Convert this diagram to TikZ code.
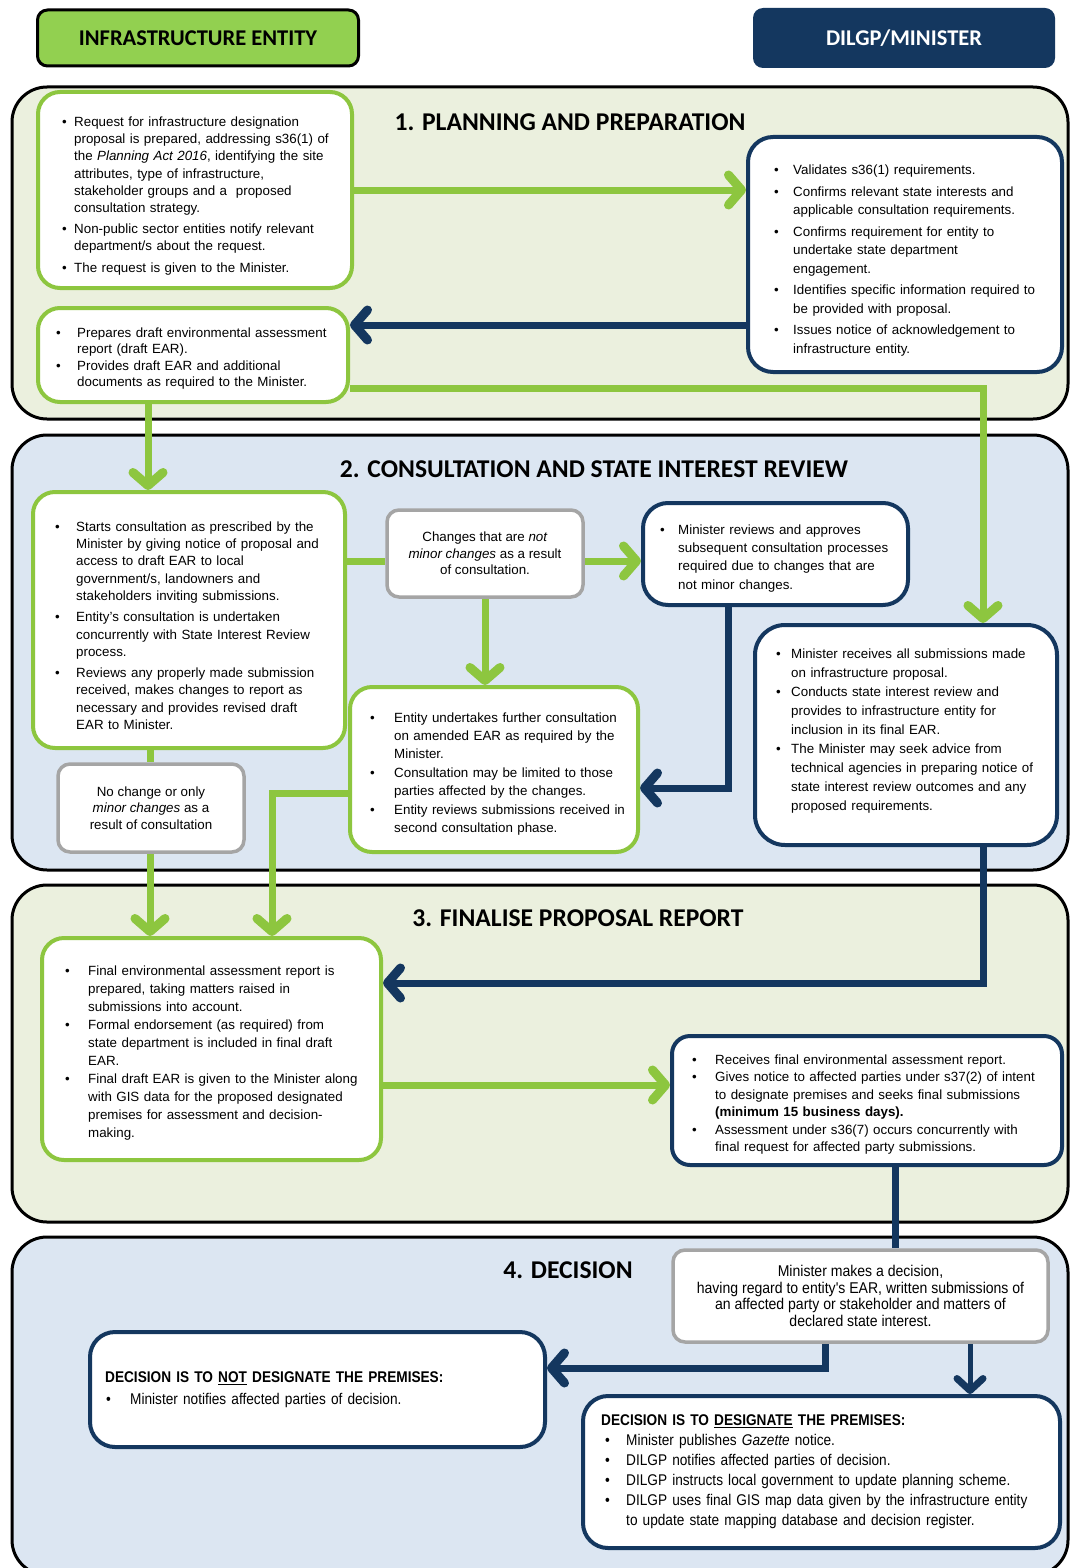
\documentclass[tikz,border=0pt]{standalone}
\usepackage{fontspec}
\setmainfont{Liberation Sans}
\newfontfamily\headfont{Carlito}
\newfontfamily\narrowfont[FakeStretch=0.88]{Liberation Sans}
\newfontfamily\narrowE[FakeStretch=0.9]{Liberation Sans}
\usetikzlibrary{arrows.meta,calc}
\definecolor{eg}{RGB}{141,198,63}
\definecolor{hg}{RGB}{146,208,80}
\definecolor{nv}{RGB}{20,55,95}
\definecolor{gy}{RGB}{165,165,165}
\definecolor{pg}{RGB}{235,240,222}
\definecolor{pb}{RGB}{220,230,242}
\newlength\bgap
\newlength\bind
\newcommand\fs[2]{\fontsize{#1}{#2}\selectfont}
\newcommand\bsetup[3]{\setlength\parskip{#1pt}\setlength\bgap{#2pt}\setlength\bind{#3pt}}
\newcommand\bitem[1]{\par\leftskip=\bind\hangindent=\bgap\hangafter=1\noindent\hbox to\bgap{\textbullet\hfil}#1\par}
\pgfdeclarelayer{panel}
\pgfdeclarelayer{conn}
\pgfsetlayers{panel,conn,main}
\begin{document}
\begin{tikzpicture}[x=1pt,y=-1pt,
  panelbox/.style={draw=black,line width=3pt,rounded corners=35pt},
  gbox/.style={draw=eg,fill=white,line width=4pt,rounded corners=22pt,inner sep=0pt},
  nbox/.style={draw=nv,fill=white,line width=4pt,rounded corners=25pt,inner sep=0pt},
  ybox/.style={draw=gy,fill=white,line width=3.5pt,rounded corners=12pt,inner sep=0pt},
  txt/.style={anchor=west,inner sep=0pt,text width=440pt,align=left},
  ctxt/.style={inner sep=0pt,align=center},
  title/.style={font=\headfont\bfseries\fontsize{25.6}{28}\selectfont},
  gline/.style={draw=eg,line width=7pt},
  nline/.style={draw=nv,line width=7pt},
  tip/.style={-{Straight Barb[length=13pt,width=30pt,line width=9pt,round]}},
  garr/.style={gline,tip},
  narr/.style={nline,tip},
]
\useasboundingbox (0,0) rectangle (1071,1568);
% ---------- panels
\begin{pgfonlayer}{panel}
\fill[white] (0,0) rectangle (1071,1568);
\draw[panelbox,fill=pg] (12,87) rectangle (1068,419);
\draw[panelbox,fill=pb] (12,435) rectangle (1068,870);
\draw[panelbox,fill=pg] (12,885) rectangle (1068,1222);
\draw[panelbox,fill=pb] (12,1237) rectangle (1068,1575);
\end{pgfonlayer}
% ---------- headers
\node[draw=black,fill=hg,line width=3pt,rounded corners=10pt,minimum width=321pt,minimum height=56pt,
  font=\headfont\bfseries\fontsize{22.5}{24}\selectfont] (hie) at (198,38) {INFRASTRUCTURE ENTITY};
\node[fill=nv,text=white,rounded corners=10pt,minimum width=302pt,minimum height=60pt,
  font=\headfont\bfseries\fontsize{22.5}{24}\selectfont] (hdm) at (904,38) {DILGP/MINISTER};
\node[title] (t1) at (570,122) {1. PLANNING AND PREPARATION};
\node[title] (t2) at (594,469) {2. CONSULTATION AND STATE INTEREST REVIEW};
\node[title] (t3) at (578,918) {3. FINALISE PROPOSAL REPORT};
\node[title] (t4) at (568,1270) {4. DECISION};
% ---------- boxes
\node[gbox,minimum width=314pt,minimum height=196pt] (a1) at (195,190) {};
\node[nbox,minimum width=314pt,minimum height=235pt] (b1) at (905,254.5) {};
\node[gbox,minimum width=310pt,minimum height=94pt] (a2) at (193,355) {};
\node[gbox,minimum width=312pt,minimum height=256pt] (c1) at (189,620) {};
\node[ybox,minimum width=196pt,minimum height=87pt] (c2) at (485,553.5) {};
\node[nbox,minimum width=265pt,minimum height=102pt] (c3) at (775.5,554) {};
\node[gbox,minimum width=288pt,minimum height=165pt] (c4) at (494,769.5) {};
\node[ybox,minimum width=186pt,minimum height=88pt] (c5) at (151,808) {};
\node[nbox,minimum width=302pt,minimum height=220pt,rounded corners=30pt] (c6) at (906,735) {};
\node[gbox,minimum width=339pt,minimum height=222pt] (d1) at (211.5,1049) {};
\node[nbox,minimum width=390pt,minimum height=129pt,rounded corners=18pt] (d2) at (867,1100.5) {};
\node[ybox,minimum width=375pt,minimum height=92pt] (e1) at (860.5,1296) {};
\node[nbox,minimum width=455pt,minimum height=115pt] (f1) at (317.5,1389.5) {};
\node[nbox,minimum width=477pt,minimum height=152pt] (f2) at (821.5,1472) {};
% ---------- texts
\node[txt,font=\fs{13.35}{17.2}] (a1t) at ([xshift=26pt]a1.west) {\bsetup{4}{12}{0}%
\bitem{Request for infrastructure designation\newline proposal is prepared, addressing s36(1) of\newline the \textit{Planning Act 2016}, identifying the site\newline attributes, type of infrastructure,\newline stakeholder groups and a\ \ proposed\newline consultation strategy.}%
\bitem{Non-public sector entities notify relevant\newline department/s about the request.}%
\bitem{The request is given to the Minister.}};
\node[txt,font=\fs{13.35}{18.5}] (b1t) at ([xshift=28pt]b1.west) {\bsetup{3}{19}{0}%
\bitem{Validates s36(1) requirements.}%
\bitem{Confirms relevant state interests and\newline applicable consultation requirements.}%
\bitem{Confirms requirement for entity to\newline undertake state department\newline engagement.}%
\bitem{Identifies specific information required to\newline be provided with proposal.}%
\bitem{Issues notice of acknowledgement to\newline infrastructure entity.}};
\node[txt,font=\fs{13.35}{16.5}] (a2t) at ([xshift=20pt]a2.west) {\bsetup{0}{21}{0}%
\bitem{Prepares draft environmental assessment\newline report (draft EAR).}%
\bitem{Provides draft EAR and additional\newline documents as required to the Minister.}};
\node[txt,font=\fs{13.35}{17.4}] (c1t) at ([xshift=24pt]c1.west) {\bsetup{3.5}{21}{0}%
\bitem{Starts consultation as prescribed by the\newline Minister by giving notice of proposal and\newline access to draft EAR to local\newline government/s, landowners and\newline stakeholders inviting submissions.}%
\bitem{Entity's consultation is undertaken\newline concurrently with State Interest Review\newline process.}%
\bitem{Reviews any properly made submission\newline received, makes changes to report as\newline necessary and provides revised draft\newline EAR to Minister.}};
\node[ctxt,font=\fs{13.35}{16.5}] (c2t) at (c2.center) {Changes that are \textit{not}\\\textit{minor changes} as a result\\of consultation.};
\node[txt,font=\fs{13.35}{18.3}] (c3t) at ([xshift=19pt]c3.west) {\bsetup{0}{18}{0}%
\bitem{Minister reviews and approves\newline subsequent consultation processes\newline required due to changes that are\newline not minor changes.}};
\node[txt,font=\fs{13.35}{18.3}] (c4t) at ([xshift=22pt]c4.west) {\bsetup{0.5}{24}{0}%
\bitem{Entity undertakes further consultation\newline on amended EAR as required by the\newline Minister.}%
\bitem{Consultation may be limited to those\newline parties affected by the changes.}%
\bitem{Entity reviews submissions received in\newline second consultation phase.}};
\node[ctxt,font=\fs{13.35}{16.5}] (c5t) at (c5.center) {No change or only\\\textit{minor changes} as a\\result of consultation};
\node[txt,font=\fs{13.35}{19}] (c6t) at ([xshift=23pt,yshift=9pt]c6.west) {\bsetup{0}{15}{0}%
\bitem{Minister receives all submissions made\newline on infrastructure proposal.}%
\bitem{Conducts state interest review and\newline provides to infrastructure entity for\newline inclusion in its final EAR.}%
\bitem{The Minister may seek advice from\newline technical agencies in preparing notice of\newline state interest review outcomes and any\newline proposed requirements.}};
\node[txt,font=\fs{13.35}{18}] (d1t) at ([xshift=25pt]d1.west) {\bsetup{0}{23}{0}%
\bitem{Final environmental assessment report is\newline prepared, taking matters raised in\newline submissions into account.}%
\bitem{Formal endorsement (as required) from\newline state department is included in final draft\newline EAR.}%
\bitem{Final draft EAR is given to the Minister along\newline with GIS data for the proposed designated\newline premises for assessment and decision-\newline making.}};
\node[txt,font=\fs{13.35}{17.5}] (d2t) at ([xshift=22pt]d2.west) {\bsetup{0}{23}{0}%
\bitem{Receives final environmental assessment report.}%
\bitem{Gives notice to affected parties under s37(2) of intent\newline to designate premises and seeks final submissions\newline \textbf{(minimum 15 business days).}}%
\bitem{Assessment under s36(7) occurs concurrently with\newline final request for affected party submissions.}};
\node[ctxt,font=\narrowE\fs{15.6}{16.8}] (e1t) at (e1.center) {Minister makes a decision,\\having regard to entity's EAR, written submissions of\\an affected party or stakeholder and matters of\\declared state interest.};
\node[txt,font=\narrowfont\fs{15.5}{22}] (f1t) at ([xshift=17pt]f1.west) {\bsetup{0}{24}{1}%
\noindent\textbf{DECISION IS TO \underline{NOT} DESIGNATE THE PREMISES:}\par
\bitem{Minister notifies affected parties of decision.}};
\node[txt,font=\narrowfont\fs{15.5}{20}] (f2t) at ([xshift=20pt]f2.west) {\bsetup{0}{21}{4}%
\noindent\textbf{DECISION IS TO \underline{DESIGNATE} THE PREMISES:}\par
\bitem{Minister publishes \textit{Gazette} notice.}%
\bitem{DILGP notifies affected parties of decision.}%
\bitem{DILGP instructs local government to update planning scheme.}%
\bitem{DILGP uses final GIS map data given by the infrastructure entity\newline to update state mapping database and decision register.}};
% ---------- connectors
\coordinate (k1) at (983,388);
\coordinate (k2) at (728,788);
\coordinate (k3) at (272,793);
\coordinate (k4) at (983,983);
\coordinate (k5) at (825,1368);
\coordinate (xa) at (148,0);
\coordinate (xc) at (150,0);
\coordinate (xd) at (895,0);
\coordinate (xe) at (970,0);
\coordinate (ya) at (0,561);
\coordinate (yb) at (0,325);
\coordinate (yd) at (0,1085);
\begin{pgfonlayer}{conn}
\draw[garr] (a1.east) -- (a1.east -| b1.west);
\draw[narr] (b1.west |- yb) -- (a2.east |- yb);
\draw[garr] (a2.east |- k1) -- (k1) -- (k1 |- c6.north);
\draw[garr] (a2.south -| xa) -- (c1.north -| xa);
\draw[gline] (c1.east |- ya) -- (c2.west |- ya);
\draw[garr] (c2.east |- ya) -- (c3.west |- ya);
\draw[garr] (c2.south) -- (c2.south |- c4.north);
\draw[narr] (c3.south -| k2) -- (k2) -- (k2 -| c4.east);
\draw[gline] (c1.south -| xc) -- (c5.north -| xc);
\draw[garr] (c5.south -| xc) -- (d1.north -| xc);
\draw[garr] (c4.west |- k3) -- (k3) -- (k3 |- d1.north);
\draw[narr] (c6.south -| k4) -- (k4) -- (k4 -| d1.east);
\draw[garr] (d1.east |- yd) -- (d2.west |- yd);
\draw[nline] (d2.south -| xd) -- (e1.north -| xd);
\draw[narr] (e1.south -| k5) -- (k5) -- (k5 -| f1.east);
\draw[nline,line width=5pt,-{Straight Barb[length=12pt,width=26pt,line width=7pt,round]}] (e1.south -| xe) -- (f2.north -| xe);
\end{pgfonlayer}
\end{tikzpicture}
\end{document}
